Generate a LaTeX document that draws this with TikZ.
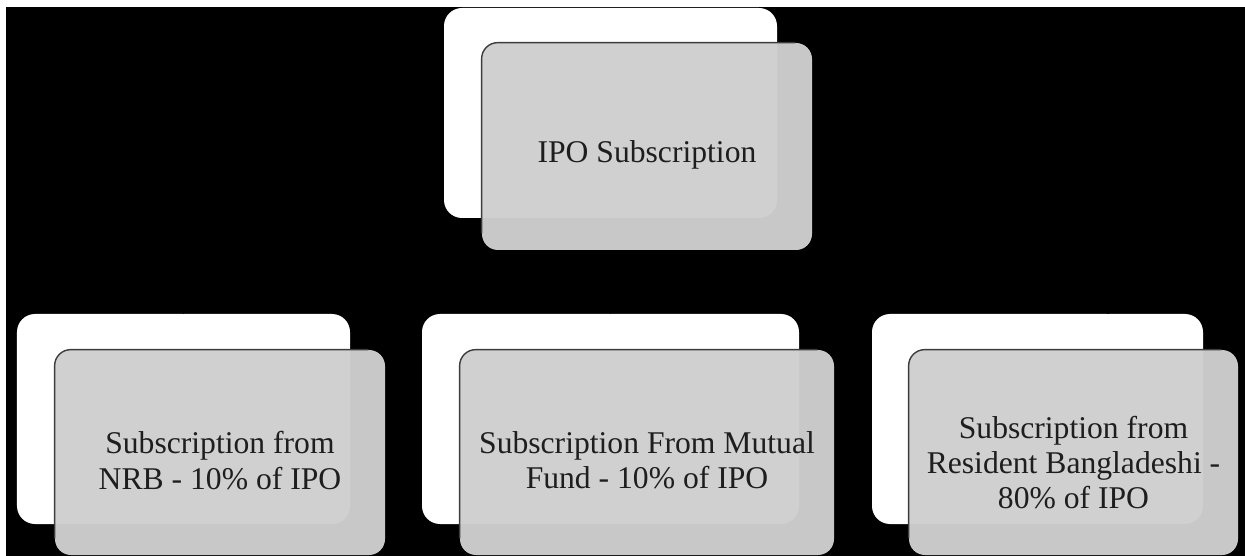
\documentclass[tikz,border=0pt]{standalone}
\usepackage{fontspec}
\setmainfont{Liberation Serif}
\newfontfamily\ipofont{Liberation Serif}
\usepackage{tikz}
\usetikzlibrary{positioning,calc}
\definecolor{boxgrey}{HTML}{CFCFCF}
\definecolor{rimgrey}{HTML}{3C3C3C}
\definecolor{inkdark}{HTML}{1E1E1E}
\tikzset{
  ipo back/.style={fill=white, draw=none, rounded corners=0.36cm, inner sep=0pt,
                   minimum width=6.66cm, minimum height=4.2cm},
  ipo front/.style={fill=boxgrey, fill opacity=0.97, draw=none, rounded corners=0.32cm, inner sep=0pt,
                    minimum width=6.6cm, minimum height=4.1cm},
  ipo rim/.style={draw=rimgrey, line width=0.8pt, rounded corners=0.32cm},
  ipo link/.style={draw=black, line width=1.1pt},
  ipo text/.style={align=center, text=inkdark, inner sep=0pt,
                   font=\ipofont\fontsize{18}{20}\selectfont},
}

\begin{document}
\begin{tikzpicture}[x=1cm, y=1cm]
  \useasboundingbox (0,0) rectangle (24.9,-11.12);
  \fill[white] (0,0) rectangle (24.9,-11.12);
  \fill[black] (0.12,-0.14) rectangle (24.9,-11.12);
  % back cards
  \node[ipo back] (pw) at (12.21,-2.26) {};
  \node[ipo back] (lw) at (3.67,-8.38) {};
  \node[ipo back, minimum width=7.54cm] (mw) at (12.21,-8.38) {};
  \node[ipo back, minimum width=6.62cm] (rw) at (20.75,-8.38) {};
  % links
  \draw[ipo link] (pw.south) -- (mw.north);
  \draw[ipo link] (pw.south) -- ++(0,-1.28) -| (lw.north);
  \draw[ipo link] ([xshift=1.44cm]pw.south) -- ++(0,-1.28) -| ([xshift=1.41cm]rw.north);
  % front cards
  \node[ipo front, minimum height=4.14cm] (pg) at (12.94,-2.93) {};
  \node[ipo front] (lg) at (4.40,-9.05) {};
  \node[ipo front, minimum width=7.48cm] (mg) at (12.94,-9.05) {};
  \node[ipo front, minimum width=6.58cm] (rg) at (21.47,-9.05) {};
  \foreach \g in {pg,lg,mg,rg}
    \draw[ipo rim] ([yshift=0.34cm]\g.south west) -- (\g.north west) -- ([xshift=-0.34cm]\g.north east);
  % texts
  \node[ipo text] (pt) at ([yshift=-0.16cm]pg.center) {IPO Subscription};
  \node[ipo text] (lt) at ([yshift=-0.16cm]lg.center) {Subscription from\\NRB - 10\% of IPO};
  \node[ipo text] (mt) at ([yshift=-0.16cm]mg.center) {Subscription From Mutual\\Fund - 10\% of IPO};
  \node[ipo text] (rt) at ([yshift=-0.2cm]rg.center) {Subscription from\\Resident Bangladeshi -\\80\% of IPO};
\end{tikzpicture}
\end{document}
